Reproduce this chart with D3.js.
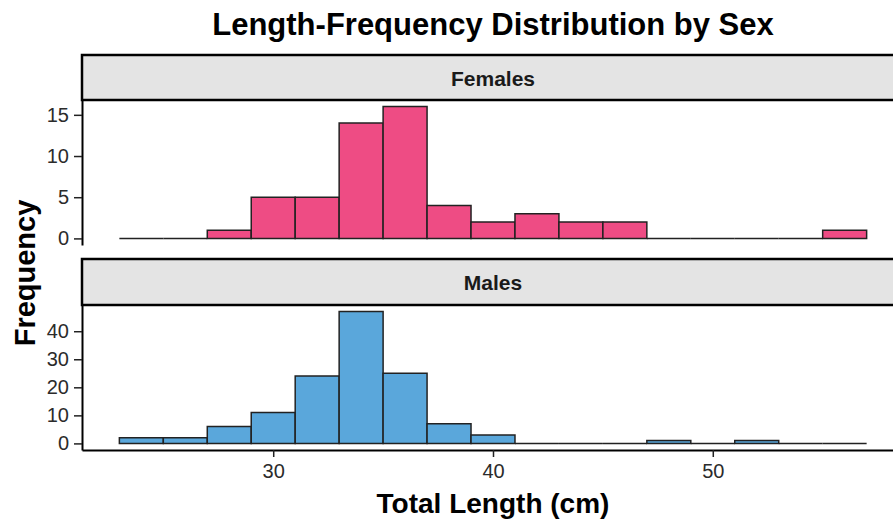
<!DOCTYPE html>
<html>
<head>
<meta charset="utf-8">
<script src="https://cdn.jsdelivr.net/npm/d3@7"></script>
<style>
  body { margin: 0; background: #fff; }
  svg { display: block; font-family: "Liberation Sans", Arial, sans-serif; }
</style>
</head>
<body>
<svg id="chart" width="893" height="522"></svg>
<script>
// histogram bins (cm), 2 cm wide
const binStarts = [23, 25, 27, 29, 31, 33, 35, 37, 39, 41, 43, 45, 47, 49, 51, 53, 55];
const binWidth = 2;
const femaleCounts = [0, 0, 1, 5, 5, 14, 16, 4, 2, 3, 2, 2, 0, 0, 0, 0, 1];
const maleCounts = [2, 2, 6, 11, 24, 47, 25, 7, 3, 0, 0, 0, 1, 0, 1, 0, 0];
const femaleTicks = [0, 5, 10, 15];
const maleTicks = [0, 10, 20, 30, 40];
const xTicks = [30, 40, 50];

const panels = [
  {name: "Females", counts: femaleCounts, ticks: femaleTicks, fill: "#ee4c84", stripTop: 55, top: 100, bottom: 245},
  {name: "Males", counts: maleCounts, ticks: maleTicks, fill: "#5aa7db", stripTop: 259, top: 305, bottom: 450}
];

const svg = d3.select("#chart");
const left = 82, right = 904;

// x range padded 5% like ggplot
const xMin = binStarts[0], xMax = binStarts[binStarts.length - 1] + binWidth;
const xPad = (xMax - xMin) * 0.05;
const x = d3.scaleLinear().domain([xMin - xPad, xMax + xPad]).range([left, right]);

panels.forEach(p => {
  const maxC = d3.max(p.counts);
  const y = d3.scaleLinear()
    .domain([-maxC * 0.05, maxC * 1.05])
    .range([p.bottom, p.top]);

  // strip
  svg.append("rect")
    .attr("x", left).attr("y", p.stripTop)
    .attr("width", 900 - left).attr("height", p.top - p.stripTop)
    .attr("fill", "#e4e4e4")
    .attr("stroke", "#000").attr("stroke-width", 2.5);
  svg.append("text")
    .attr("x", (left + right) / 2).attr("y", (p.stripTop + p.top) / 2 + 8)
    .attr("text-anchor", "middle")
    .attr("font-size", 21).attr("font-weight", "bold")
    .attr("fill", "#1a1a1a")
    .text(p.name);

  // bars (zero bins still draw a flat outline)
  const bins = binStarts.map((b, i) => ({x0: b, x1: b + binWidth, n: p.counts[i]}));
  svg.append("g").selectAll("path")
    .data(bins)
    .join("path")
    .attr("d", d => `M${x(d.x0)},${y(0)}V${y(d.n)}H${x(d.x1)}V${y(0)}Z`)
    .attr("fill", p.fill)
    .attr("stroke", "#222")
    .attr("stroke-width", 1.5);

  // y axis
  const ya = svg.append("g")
    .attr("transform", `translate(${left},0)`)
    .call(d3.axisLeft(y).tickValues(p.ticks).tickSize(8).tickPadding(5).tickSizeOuter(0));
  ya.select(".domain").attr("stroke", "#000").attr("stroke-width", 2);
  ya.selectAll(".tick line").attr("stroke", "#222").attr("stroke-width", 1.5);
  ya.selectAll(".tick text")
    .attr("font-size", 20).attr("fill", "#2b2b2b")
    .attr("font-family", "Liberation Sans, Arial, sans-serif");
});

// x axis under the bottom panel
const xa = svg.append("g")
  .attr("transform", `translate(0,${panels[1].bottom})`)
  .call(d3.axisBottom(x).tickValues(xTicks).tickSize(7).tickPadding(7).tickSizeOuter(0));
xa.select(".domain").attr("stroke", "#000").attr("stroke-width", 2);
xa.selectAll(".tick line").attr("stroke", "#222").attr("stroke-width", 1.5);
xa.selectAll(".tick text")
  .attr("font-size", 20).attr("fill", "#2b2b2b")
  .attr("font-family", "Liberation Sans, Arial, sans-serif");

// titles
svg.append("text")
  .attr("x", (left + right) / 2).attr("y", 35)
  .attr("text-anchor", "middle")
  .attr("font-size", 31).attr("font-weight", "bold")
  .text("Length-Frequency Distribution by Sex");

svg.append("text")
  .attr("x", (left + right) / 2).attr("y", 513)
  .attr("text-anchor", "middle")
  .attr("font-size", 28).attr("font-weight", "bold")
  .text("Total Length (cm)");

svg.append("text")
  .attr("transform", `translate(35,${(panels[0].top + panels[1].bottom) / 2 - 2}) rotate(-90)`)
  .attr("text-anchor", "middle")
  .attr("font-size", 29).attr("font-weight", "bold")
  .text("Frequency");
</script>
</body>
</html>
